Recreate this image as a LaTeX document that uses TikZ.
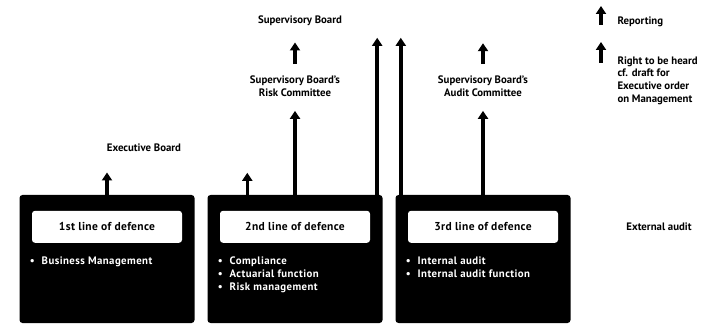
\documentclass[tikz,border=0pt]{standalone}
\usepackage{fontspec}
\setmainfont{PT Sans}
\usetikzlibrary{arrows.meta}

\begin{document}
\begin{tikzpicture}[x=1pt, y=1pt, node distance=188pt, every node/.style={font=\bfseries\fontsize{10.8}{12.7}\selectfont}, align=center,
    line/.style={rectangle, fill=black, rounded corners=3pt, minimum width=175pt, minimum height=128pt},
    title/.style={rectangle, fill=white, rounded corners=3pt, minimum width=150pt, minimum height=32pt, font=\bfseries\fontsize{11.5}{13}\selectfont\addfontfeatures{LetterSpace=3}},
    items/.style={text=white, align=left, anchor=north west, font=\bfseries\fontsize{10.8}{13}\selectfont\addfontfeatures{LetterSpace=4}},
    arr/.style={-{Triangle[width=10pt,length=8pt]}, line width=3.5pt}]
    \useasboundingbox (0,0) rectangle (702,327);

    % Define blocks
    \node (line1) [line] at (107,68) {};
    \node (line2) [line, right of=line1] {};
    \node (line3) [line, right of=line2] {};

    \node (title1) [title] at ([yshift=-32pt]line1.north) {1st line of defence};
    \node (title2) [title] at ([yshift=-32pt]line2.north) {2nd line of defence};
    \node (title3) [title] at ([yshift=-32pt]line3.north) {3rd line of defence};

    \node (items1) [items] at ([xshift=7pt, yshift=-58pt]line1.north west) {\textbullet\hspace{7pt}Business Management};
    \node (items2) [items] at ([xshift=7pt, yshift=-58pt]line2.north west) {\textbullet\hspace{7pt}Compliance\\ \textbullet\hspace{7pt}Actuarial function\\ \textbullet\hspace{7pt}Risk management};
    \node (items3) [items] at ([xshift=7pt, yshift=-58pt]line3.north west) {\textbullet\hspace{7pt}Internal audit\\ \textbullet\hspace{7pt}Internal audit function};

    \node (exec) [above of=line1, xshift=37pt, yshift=-77pt] {Executive Board};
    \node (riskc) [above of=line2, yshift=-15pt] {Supervisory Board's\\Risk Committee};
    \node (audit) [above of=line3, yshift=-15pt] {Supervisory Board's\\Audit Committee};
    \node (sup) [above of=riskc, xshift=5pt, yshift=-123pt] {Supervisory Board};
    \node (ext) [right of=line3, xshift=-12pt, yshift=32pt] {External audit};

    % Free ends
    \coordinate (up2) at ([xshift=40pt, yshift=22pt]line2.north west);
    \coordinate (upa) at ([xshift=-5.5pt, yshift=157pt]line2.north east);
    \coordinate (upb) at ([xshift=5.5pt, yshift=157pt]line3.north west);
    \coordinate (upc) at ([yshift=29pt]audit.north);

    % Draw arrows
    \draw[arr, shorten >=17pt] (line1.north) -- (line1.north |- exec.south);
    \draw[arr] (up2 |- line2.north) -- (up2);
    \draw[arr, shorten >=11pt] (line2.north) -- (riskc.south);
    \draw[arr, shorten <=8pt, shorten >=13pt] (riskc.north) -- (riskc.north |- sup.south);
    \draw[arr] (upa |- line2.north) -- (upa);
    \draw[arr] (upb |- line3.north) -- (upb);
    \draw[arr, shorten >=11pt] (line3.north) -- (audit.south);
    \draw[arr, shorten <=8pt] (audit.north) -- (upc);

    % Legend
    \node (rep) [anchor=west] at (614,305) {Reporting};
    \node (heard) [anchor=north west, align=left] at (614,274) {Right to be heard\\cf. draft for\\Executive order\\on Management};
    \coordinate (key1) at (601,302);
    \coordinate (key2) at (601,264);
    \draw[arr] (key1) -- ([yshift=19pt]key1);
    \draw[arr] (key2) -- ([yshift=21pt]key2);
\end{tikzpicture}
\end{document}
